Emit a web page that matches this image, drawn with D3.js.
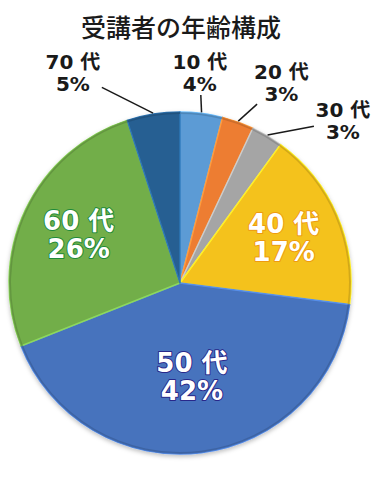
<!DOCTYPE html>
<html>
<head>
<meta charset="utf-8">
<script src="https://cdn.jsdelivr.net/npm/d3@7"></script>
<style>
  body { margin: 0; background: #fff; }
  text { font-family: "DejaVu Sans", "Noto Sans CJK JP", sans-serif; font-weight: bold; }
</style>
</head>
<body>
<script>
// Data
var categories = ["10 代", "20 代", "30 代", "40 代", "50 代", "60 代", "70 代"];
var shares = [4, 3, 3, 17, 42, 26, 5];
var title = "受講者の年齢構成";

// Styles
var fills = ["#5B9BD5", "#ED7D31", "#A5A5A5", "#F4C21D", "#4673BD", "#72AE4A", "#265F92"];
var halo = [null, null, null, "#EE9A10", "#28288A", "#1E8A3A", null];
var insideLabel = [false, false, false, true, true, true, false];
// small angular nudges (degrees) for outside labels, like Excel's best fit
var labelNudge = [-1.8, 7, 14.5, 0, 0, 0, -18];
var labelRadius = [211, 225, 230, 113, 95, 112, 236];

var svgWidth = 376;
var svgHeight = 500;
var cx = 180, cy = 283, radius = 171;

var svg = d3.select("body")
  .append("svg")
  .attr("width", svgWidth)
  .attr("height", svgHeight);

// title
svg.append("text")
  .attr("x", 181)
  .attr("y", 37)
  .attr("text-anchor", "middle")
  .style("font-family", "'Noto Sans CJK JP', sans-serif")
  .style("font-weight", "500")
  .style("font-size", "25px")
  .attr("fill", "#1a1a1a")
  .text(title);

var defs = svg.append("defs");
var shadow = defs.append("filter").attr("id", "shadow")
  .attr("x", "-10%").attr("y", "-10%").attr("width", "120%").attr("height", "120%");
shadow.append("feDropShadow")
  .attr("dx", 0).attr("dy", 2).attr("stdDeviation", 2)
  .attr("flood-color", "#000").attr("flood-opacity", 0.25);

var chartGroup = svg.append("g")
  .attr("transform", `translate(${cx}, ${cy})`);

var pie = d3.pie().sort(null).value(d => d);
var arcs = pie(shares);

var arc = d3.arc().innerRadius(0).outerRadius(radius);
var rimArc = d3.arc().innerRadius(radius - 2).outerRadius(radius);

// slices
var slices = chartGroup.append("g").attr("filter", "url(#shadow)");
slices.selectAll("path.slice")
  .data(arcs)
  .enter()
  .append("path")
  .classed("slice", true)
  .attr("d", arc)
  .attr("fill", (d, i) => fills[i])
  .attr("stroke", (d, i) => d3.color(fills[i]).brighter(0.6))
  .attr("stroke-width", 1.5)
  .attr("stroke-linejoin", "round");

// darker rim for a bevel look
chartGroup.selectAll("path.rim")
  .data(arcs)
  .enter()
  .append("path")
  .classed("rim", true)
  .attr("d", rimArc)
  .attr("fill", (d, i) => d3.color(fills[i]).darker(0.6))
  .attr("opacity", 0.7);

// inside labels
var inside = chartGroup.selectAll("g.inlabel")
  .data(arcs.filter((d, i) => insideLabel[i]))
  .enter()
  .append("g")
  .classed("inlabel", true)
  .attr("transform", d => {
    var r = labelRadius[d.index];
    var c = d3.arc().innerRadius(r).outerRadius(r).centroid(d);
    return `translate(${c[0]}, ${c[1]})`;
  });

inside.each(function(d) {
  var i = d.index;
  var g = d3.select(this);
  var lines = [categories[i], shares[i] + "%"];
  lines.forEach(function(t, k) {
    g.append("text")
      .attr("y", k === 0 ? -5 : 23)
      .attr("text-anchor", "middle")
      .style("font-size", "26px")
      .attr("fill", "#fff")
      .attr("stroke", halo[i])
      .attr("stroke-width", 2)
      .attr("paint-order", "stroke")
      .attr("stroke-linejoin", "round")
      .text(t);
  });
});

// outside labels with leader lines
var outside = arcs.filter((d, i) => !insideLabel[i]);
var halfW = 29, halfH = 22;

outside.forEach(function(d) {
  var i = d.index;
  var mid = (d.startAngle + d.endAngle) / 2;
  var la = mid + labelNudge[i] * Math.PI / 180;
  var lx = labelRadius[i] * Math.sin(la);
  var ly = -labelRadius[i] * Math.cos(la);
  var sx = (radius + 1) * Math.sin(mid);
  var sy = -(radius + 1) * Math.cos(mid);

  // end the leader where it meets the label box
  var dx = sx - lx, dy = sy - ly;
  var t = Math.min(halfW / Math.abs(dx || 1e-6), halfH / Math.abs(dy || 1e-6));
  var ex = lx + dx * t, ey = ly + dy * t;

  chartGroup.append("line")
    .attr("x1", sx).attr("y1", sy)
    .attr("x2", ex).attr("y2", ey)
    .attr("stroke", "#1a1a1a")
    .attr("stroke-width", 1.5);

  [categories[i], shares[i] + "%"].forEach(function(txt, k) {
    chartGroup.append("text")
      .attr("x", lx)
      .attr("y", ly + (k === 0 ? -3.5 : 18.5))
      .attr("text-anchor", "middle")
      .style("font-size", "20px")
      .attr("fill", "#1a1a1a")
      .text(txt);
  });
});
</script>
</body>
</html>
